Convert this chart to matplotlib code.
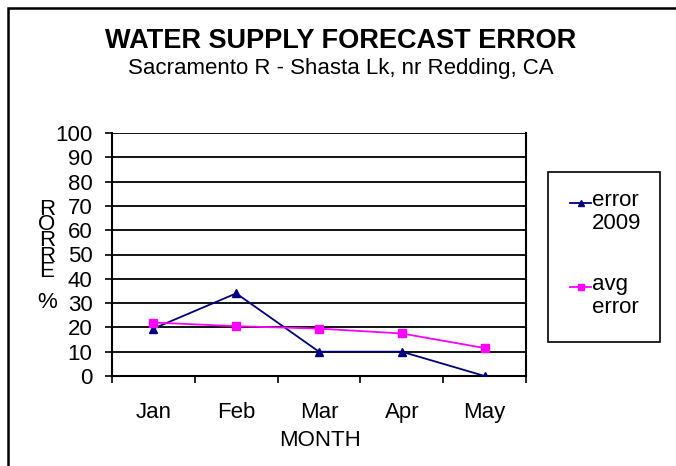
import matplotlib
matplotlib.use("Agg")
import matplotlib.pyplot as plt
from matplotlib.patches import Rectangle
from matplotlib.lines import Line2D

plt.rcParams['font.family'] = ['Liberation Sans', 'DejaVu Sans']

months = ['Jan', 'Feb', 'Mar', 'Apr', 'May']
error_2009 = [19.5, 34, 10, 10, 0]
avg_error = [22, 20.5, 19.5, 17.5, 11.5]
y_ticks = list(range(0, 101, 10))

W, H = 676, 466
fig = plt.figure(figsize=(W / 100, H / 100), dpi=100)

def fx(px):
    return px / W

def fy(py):
    return 1 - py / H

# outer chart border (only top and left visible, cut off by image edge)
fig.patches.append(Rectangle((fx(8), -0.1), 1.2, fy(8) + 0.1, transform=fig.transFigure,
                             fill=False, edgecolor='black', linewidth=1.8))

ax = fig.add_axes([fx(112), fy(376), fx(526) - fx(112), fy(133) - fy(376)])
x = list(range(1, len(months) + 1))

ax.plot(x, error_2009, color='#000080', marker='^', markersize=5.5, linewidth=1.3, zorder=3)
ax.plot(x, avg_error, color='#FF00FF', marker='s', markersize=5.5, linewidth=1.3, zorder=3)

ax.set_xlim(0.5, len(months) + 0.5)
ax.set_ylim(0, 100)
ax.set_yticks(y_ticks)
ax.set_yticklabels([str(v) for v in y_ticks], fontsize=16)
ax.set_xticks(x)
ax.set_xticklabels(months, fontsize=16)
ax.set_xticks([i + 0.5 for i in range(0, len(months) + 1)], minor=True)
ax.tick_params(axis='x', which='major', length=0, pad=18.5)
ax.tick_params(axis='x', which='minor', length=5, width=1.2, direction='out')
ax.tick_params(axis='y', length=5, width=1.2, direction='out', pad=9)
ax.grid(axis='y', color='black', linewidth=1.3)
ax.set_axisbelow(True)
for s in ['left', 'bottom', 'right']:
    ax.spines[s].set_linewidth(1.5)
ax.spines['top'].set_visible(False)

# titles
fig.text(fx(341), fy(41), 'WATER SUPPLY FORECAST ERROR', ha='center', va='center',
         fontsize=19.5, fontweight='bold')
fig.text(fx(341), fy(68), 'Sacramento R - Shasta Lk, nr Redding, CA', ha='center', va='center',
         fontsize=16)
fig.text(fx(320), fy(441), 'MONTH', ha='center', va='center', fontsize=16)
fig.text(fx(47), fy(256), 'R\nO\nR\nR\nE\n \n%', ha='center', va='center', fontsize=16,
         linespacing=0.66)

# legend box
fig.patches.append(Rectangle((fx(548), fy(342)), fx(660) - fx(548), fy(172) - fy(342),
                             transform=fig.transFigure, fill=False, edgecolor='black', linewidth=1.2))
entries = [('error\n2009', '#000080', '^', 203), ('avg\nerror', '#FF00FF', 's', 287)]
for label, col, mk, ly in entries:
    fig.add_artist(Line2D([fx(570), fx(591)], [fy(ly), fy(ly)], color=col, linewidth=1.3,
                          transform=fig.transFigure))
    fig.add_artist(Line2D([fx(580.5)], [fy(ly)], color=col, marker=mk, markersize=5,
                          transform=fig.transFigure))
    fig.text(fx(592), fy(ly - 13), label, ha='left', va='top', fontsize=16, linespacing=1.12)

fig.savefig('out.png', dpi=100)
